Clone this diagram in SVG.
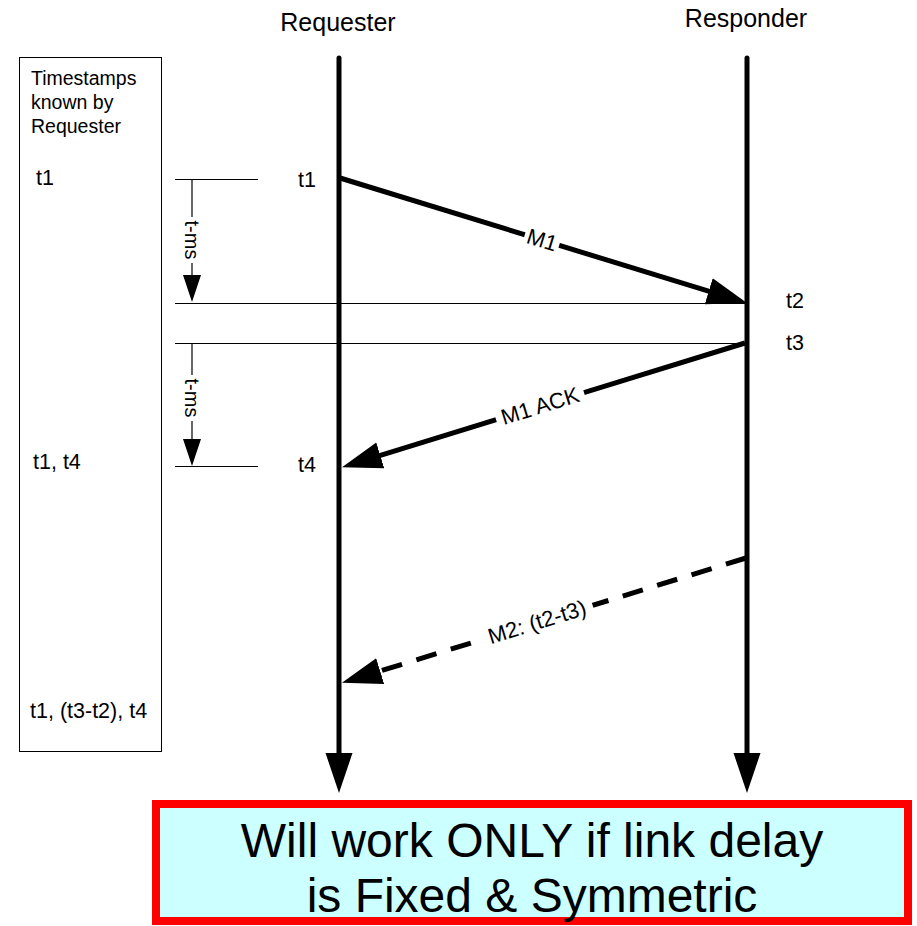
<svg xmlns="http://www.w3.org/2000/svg" width="917" height="926" viewBox="0 0 917 926">
  <style>
    text { font-family: "Liberation Sans", Arial, sans-serif; fill: #000; }
    .title { font-size: 25px; text-anchor: middle; }
    .small { font-size: 19.5px; }
    .ts { font-size: 21.5px; }
    .msg { font-size: 22px; text-anchor: middle; dominant-baseline: central; }
    .tick { font-size: 20px; text-anchor: middle; dominant-baseline: central; }
    .life { stroke: #000; stroke-width: 5; fill: none; stroke-linecap: round; }
    .arrow { stroke: #000; stroke-width: 5; fill: none; }
    .dash { stroke-dasharray: 21 15; }
    .thin { stroke: #000; stroke-width: 1.2; fill: none; }
    .mask { fill: #fff; stroke: none; }
  </style>
  <defs>
    <marker id="head" viewBox="0 -14 40 28" refX="10" refY="0" markerWidth="40" markerHeight="28" markerUnits="userSpaceOnUse" orient="auto">
      <path d="M0,-13.5 L40,0 L0,13.5 z" fill="#000"/>
    </marker>
    <marker id="headSmall" viewBox="0 -9 27 18" refX="5" refY="0" markerWidth="27" markerHeight="18" markerUnits="userSpaceOnUse" orient="auto">
      <path d="M0,-9 L27,0 L0,9 z" fill="#000"/>
    </marker>
  </defs>

  <!-- Participants -->
  <g id="requester">
    <text class="title" x="338" y="31">Requester</text>
  </g>
  <g id="responder">
    <text class="title" x="746" y="27">Responder</text>
  </g>

  <!-- Timestamp summary box -->
  <g id="timestamps-box">
    <rect x="19.5" y="57.5" width="142" height="694" fill="none" stroke="#000" stroke-width="1"/>
    <text class="small" x="31" y="85">Timestamps</text>
    <text class="small" x="31" y="109">known by</text>
    <text class="small" x="31" y="133">Requester</text>
    <text class="ts" x="36" y="185">t1</text>
    <text class="ts" x="33" y="469">t1, t4</text>
    <text class="ts" x="30" y="718">t1, (t3-t2), t4</text>
  </g>

  <!-- Timestamp labels on the lifelines -->
  <g id="stamp-labels">
    <text class="ts" x="298" y="187">t1</text>
    <text class="ts" x="298" y="472">t4</text>
    <text class="ts" x="786" y="308">t2</text>
    <text class="ts" x="786" y="350">t3</text>
  </g>

  <!-- Connectors -->
  <g id="connectors">
    <!-- lifelines -->
    <line class="life" x1="339" y1="58" x2="339" y2="763" marker-end="url(#head)"/>
    <line class="life" x1="747" y1="58" x2="747" y2="763" marker-end="url(#head)"/>

    <!-- reference lines and interval markers -->
    <line class="thin" x1="175" y1="179.5" x2="258" y2="179.5"/>
    <line class="thin" x1="175" y1="303.5" x2="747" y2="303.5"/>
    <line class="thin" x1="175" y1="343.5" x2="747" y2="343.5"/>
    <line class="thin" x1="175" y1="466.5" x2="258" y2="466.5"/>
    <line class="thin" stroke-width="1.5" x1="192" y1="180" x2="192" y2="280" marker-end="url(#headSmall)"/>
    <line class="thin" stroke-width="1.5" x1="192" y1="344" x2="192" y2="444" marker-end="url(#headSmall)"/>

    <!-- M1: requester to responder -->
    <line class="arrow" x1="340" y1="178" x2="718.3" y2="294.2" marker-end="url(#head)"/>
    <!-- M1 ACK: responder to requester -->
    <line class="arrow" x1="745" y1="343" x2="370.7" y2="458.3" marker-end="url(#head)"/>
    <!-- M2 follow-up: responder to requester -->
    <line class="arrow dash" x1="746" y1="558" x2="370.6" y2="674" marker-end="url(#head)"/>
  </g>

  <!-- Connector labels -->
  <g id="interval-1">
    <g transform="translate(192,240) rotate(90)">
      <rect class="mask" x="-23" y="-9" width="46" height="18"/>
      <text class="tick" x="0" y="0">t-ms</text>
    </g>
  </g>
  <g id="interval-2">
    <g transform="translate(192,398) rotate(90)">
      <rect class="mask" x="-23" y="-9" width="46" height="18"/>
      <text class="tick" x="0" y="0">t-ms</text>
    </g>
  </g>
  <g id="label-m1">
    <g transform="translate(542,240) rotate(17.1)">
      <rect class="mask" x="-18" y="-11" width="36" height="22"/>
      <text class="msg" x="0" y="0">M1</text>
    </g>
  </g>
  <g id="label-m1-ack">
    <g transform="translate(540,406) rotate(-17.1)">
      <rect class="mask" x="-46" y="-11" width="92" height="22"/>
      <text class="msg" x="0" y="0">M1 ACK</text>
    </g>
  </g>
  <g id="label-m2">
    <g transform="translate(537,622) rotate(-17.2)">
      <rect class="mask" x="-58" y="-11" width="116" height="22"/>
      <text class="msg" x="0" y="0">M2: (t2-t3)</text>
    </g>
  </g>

  <!-- Conclusion banner -->
  <g id="note">
    <rect x="156" y="804" width="752" height="117" fill="#CCFFFF" stroke="#FF0000" stroke-width="8"/>
    <text x="532" y="857" font-size="48" text-anchor="middle">Will work ONLY if link delay</text>
    <text x="532" y="912" font-size="48" text-anchor="middle">is Fixed &amp; Symmetric</text>
  </g>
</svg>
